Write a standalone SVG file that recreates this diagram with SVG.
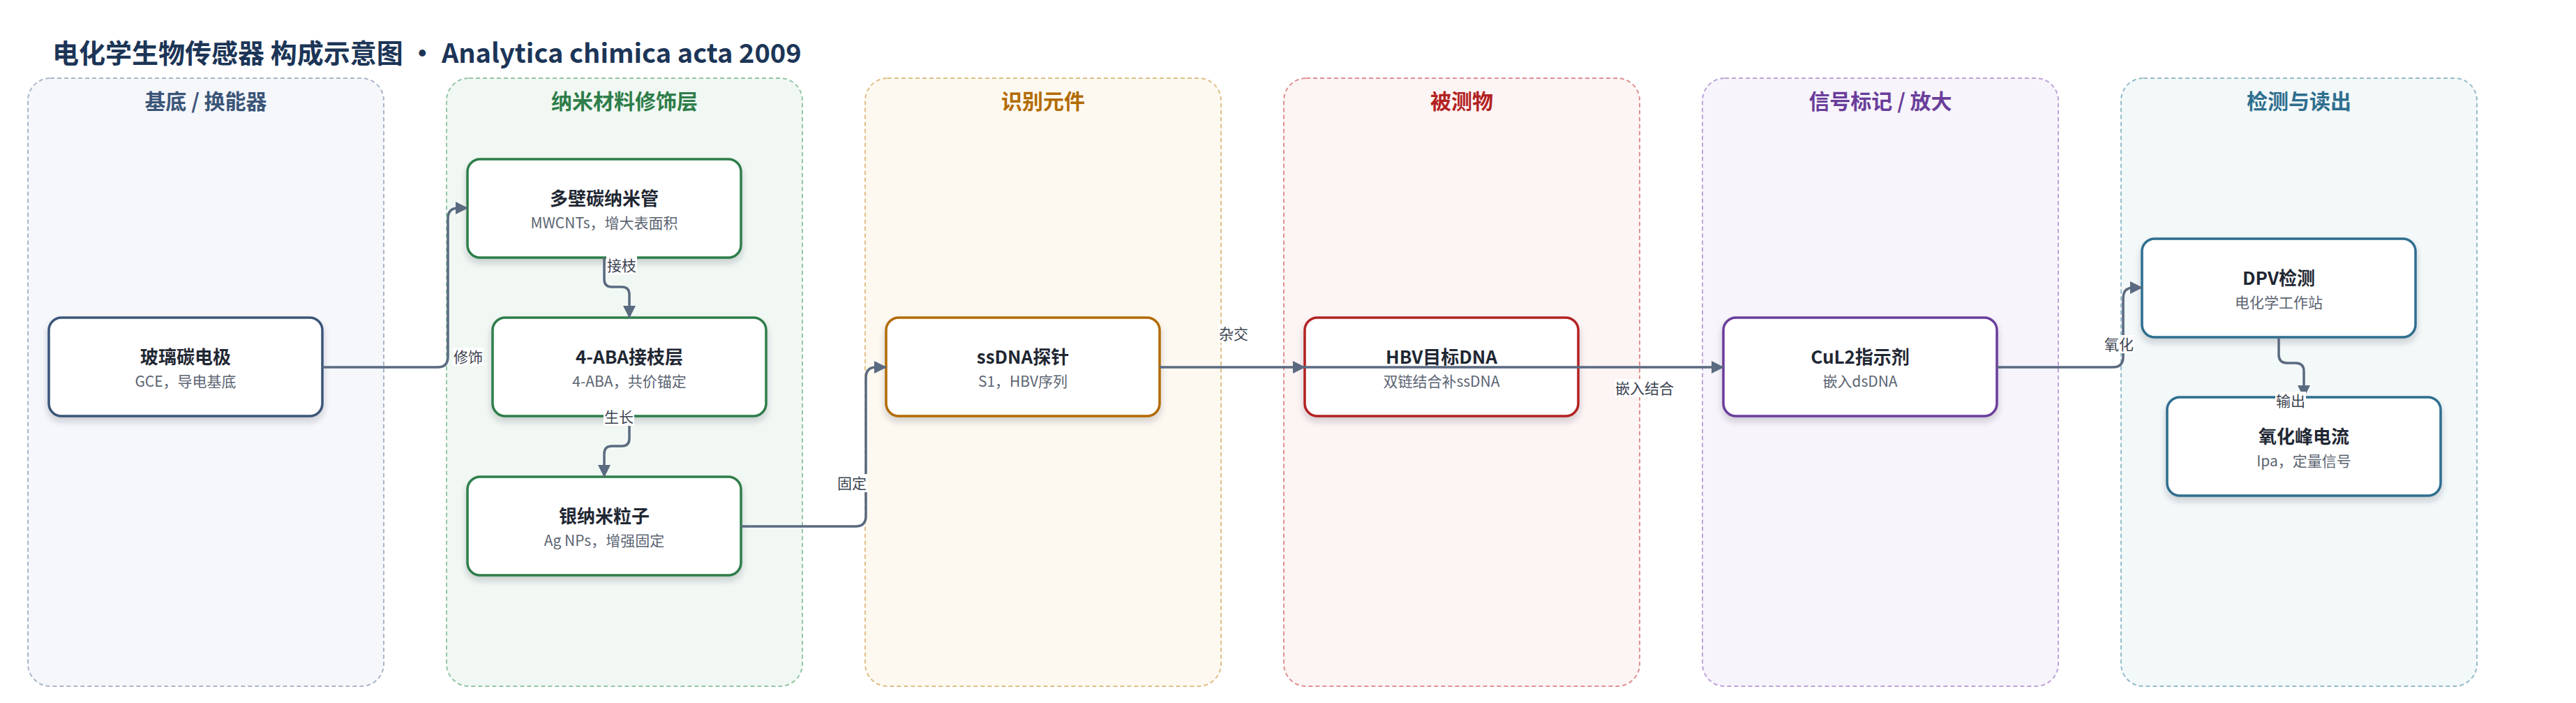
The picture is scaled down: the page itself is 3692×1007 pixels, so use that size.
<svg xmlns="http://www.w3.org/2000/svg" width="3692" height="1007" viewBox="0 0 3692 1007">
<defs>
<style>
text{font-family:"Noto Sans CJK SC","Noto Sans",sans-serif;}
.title{font-size:38px;font-weight:700;fill:#1c3557;}
.lane{stroke-width:2;stroke-dasharray:6 4;}
.lt{font-size:30px;font-weight:700;text-anchor:middle;}
.node{fill:#ffffff;stroke-width:3.5;filter:url(#sh);}
.nt{font-size:26px;font-weight:700;fill:#1f2733;text-anchor:middle;}
.ns{font-size:21px;fill:#5b6472;text-anchor:middle;}
.edge{fill:none;stroke:#5a6a80;stroke-width:3.5;marker-end:url(#arr);}
.lb{fill:#ffffff;}
.lbt{font-size:21px;fill:#3b4250;text-anchor:middle;}
</style>
<filter id="sh" x="-10%" y="-20%" width="120%" height="150%">
<feDropShadow dx="0" dy="6" stdDeviation="5" flood-color="#1f2937" flood-opacity="0.2"/>
</filter>
<marker id="arr" viewBox="0 0 18 18" markerWidth="18" markerHeight="18" refX="17" refY="9" orient="auto" markerUnits="userSpaceOnUse">
<path d="M0,0 L18,9 L0,18 z" fill="#5a6a80"/>
</marker>
</defs>
<rect width="3692" height="1007" fill="#ffffff"/>
<text class="title" x="75" y="90">电化学生物传感器 构成示意图 · Analytica chimica acta 2009</text>

<g id="lanes">
<g id="lane-substrate"><rect class="lane" x="40" y="112" width="510" height="871" rx="32" fill="#f5f7fb" stroke="#a9b6ca"/><text class="lt" x="295" y="156" fill="#3b5578">基底 / 换能器</text></g>
<g id="lane-nano"><rect class="lane" x="640" y="112" width="510" height="871" rx="32" fill="#f1f8f3" stroke="#94c6a4"/><text class="lt" x="895" y="156" fill="#2e7d4a">纳米材料修饰层</text></g>
<g id="lane-recog"><rect class="lane" x="1240" y="112" width="510" height="871" rx="32" fill="#fdf9f1" stroke="#e0bf84"/><text class="lt" x="1495" y="156" fill="#b36b00">识别元件</text></g>
<g id="lane-analyte"><rect class="lane" x="1840" y="112" width="510" height="871" rx="32" fill="#fdf4f4" stroke="#e09090"/><text class="lt" x="2095" y="156" fill="#b22222">被测物</text></g>
<g id="lane-label"><rect class="lane" x="2440" y="112" width="510" height="871" rx="32" fill="#f7f4fb" stroke="#bfa3da"/><text class="lt" x="2695" y="156" fill="#6a3d9a">信号标记 / 放大</text></g>
<g id="lane-detect"><rect class="lane" x="3040" y="112" width="510" height="871" rx="32" fill="#f3f8f9" stroke="#95bccb"/><text class="lt" x="3295" y="156" fill="#2e6e8e">检测与读出</text></g>
</g>

<g id="nodes">
<g id="n-gce"><rect class="node" x="70" y="455" width="392" height="141" rx="18" stroke="#3b5578"/><text class="nt" x="266" y="521">玻璃碳电极</text><text class="ns" x="266" y="554">GCE，导电基底</text></g>
<g id="n-mwcnt"><rect class="node" x="670" y="228" width="392" height="141" rx="18" stroke="#2e7d4a"/><text class="nt" x="866" y="294">多壁碳纳米管</text><text class="ns" x="866" y="327">MWCNTs，增大表面积</text></g>
<g id="n-aba"><rect class="node" x="706" y="455" width="392" height="141" rx="18" stroke="#2e7d4a"/><text class="nt" x="902" y="521">4-ABA接枝层</text><text class="ns" x="902" y="554">4-ABA，共价锚定</text></g>
<g id="n-agnp"><rect class="node" x="670" y="683" width="392" height="141" rx="18" stroke="#2e7d4a"/><text class="nt" x="866" y="749">银纳米粒子</text><text class="ns" x="866" y="782">Ag NPs，增强固定</text></g>
<g id="n-probe"><rect class="node" x="1270" y="455" width="392" height="141" rx="18" stroke="#b36b00"/><text class="nt" x="1466" y="521">ssDNA探针</text><text class="ns" x="1466" y="554">S1，HBV序列</text></g>
<g id="n-hbv"><rect class="node" x="1870" y="455" width="392" height="141" rx="18" stroke="#b22222"/><text class="nt" x="2066" y="521">HBV目标DNA</text><text class="ns" x="2066" y="554">双链结合补ssDNA</text></g>
<g id="n-cul2"><rect class="node" x="2470" y="455" width="392" height="141" rx="18" stroke="#6a3d9a"/><text class="nt" x="2666" y="521">CuL2指示剂</text><text class="ns" x="2666" y="554">嵌入dsDNA</text></g>
<g id="n-dpv"><rect class="node" x="3070" y="342" width="392" height="141" rx="18" stroke="#2e6e8e"/><text class="nt" x="3266" y="408">DPV检测</text><text class="ns" x="3266" y="441">电化学工作站</text></g>
<g id="n-ipa"><rect class="node" x="3106" y="569" width="392" height="141" rx="18" stroke="#2e6e8e"/><text class="nt" x="3302" y="635">氧化峰电流</text><text class="ns" x="3302" y="668">Ipa，定量信号</text></g>
</g>

<g id="connectors">
<path class="edge" d="M462,526 H627 Q642,526 642,511 V313 Q642,298 657,298 H670"/>
<path class="edge" d="M866,369 V400 Q866,411 877,411 H891 Q902,411 902,422 V455"/>
<path class="edge" d="M902,596 V628 Q902,639 891,639 H877 Q866,639 866,650 V683"/>
<path class="edge" d="M1062,754 H1226 Q1241,754 1241,739 V541 Q1241,526 1256,526 H1270"/>
<path class="edge" d="M1662,526 H1870"/>
<path class="edge" d="M1870,526 H2470"/>
<path class="edge" d="M2862,526 H3028 Q3043,526 3043,511 V427 Q3043,412 3058,412 H3070"/>
<path class="edge" d="M3266,483 V508 Q3266,520 3278,520 H3290 Q3302,520 3302,532 V569"/>
<g id="edge-labels">
<rect class="lb" x="649" y="498" width="44" height="26"/><text class="lbt" x="671" y="519">修饰</text>
<rect class="lb" x="869" y="367" width="44" height="26"/><text class="lbt" x="891" y="388">接枝</text>
<rect class="lb" x="865" y="584" width="44" height="26"/><text class="lbt" x="887" y="605">生长</text>
<rect class="lb" x="1199" y="679" width="44" height="26"/><text class="lbt" x="1221" y="700">固定</text>
<rect class="lb" x="1746" y="465" width="44" height="26"/><text class="lbt" x="1768" y="486">杂交</text>
<rect class="lb" x="2314" y="543" width="86" height="26"/><text class="lbt" x="2357" y="564">嵌入结合</text>
<rect class="lb" x="3015" y="480" width="44" height="26"/><text class="lbt" x="3037" y="501">氧化</text>
<rect class="lb" x="3261" y="561" width="44" height="26"/><text class="lbt" x="3283" y="582">输出</text>
</g>
</g>
</svg>
